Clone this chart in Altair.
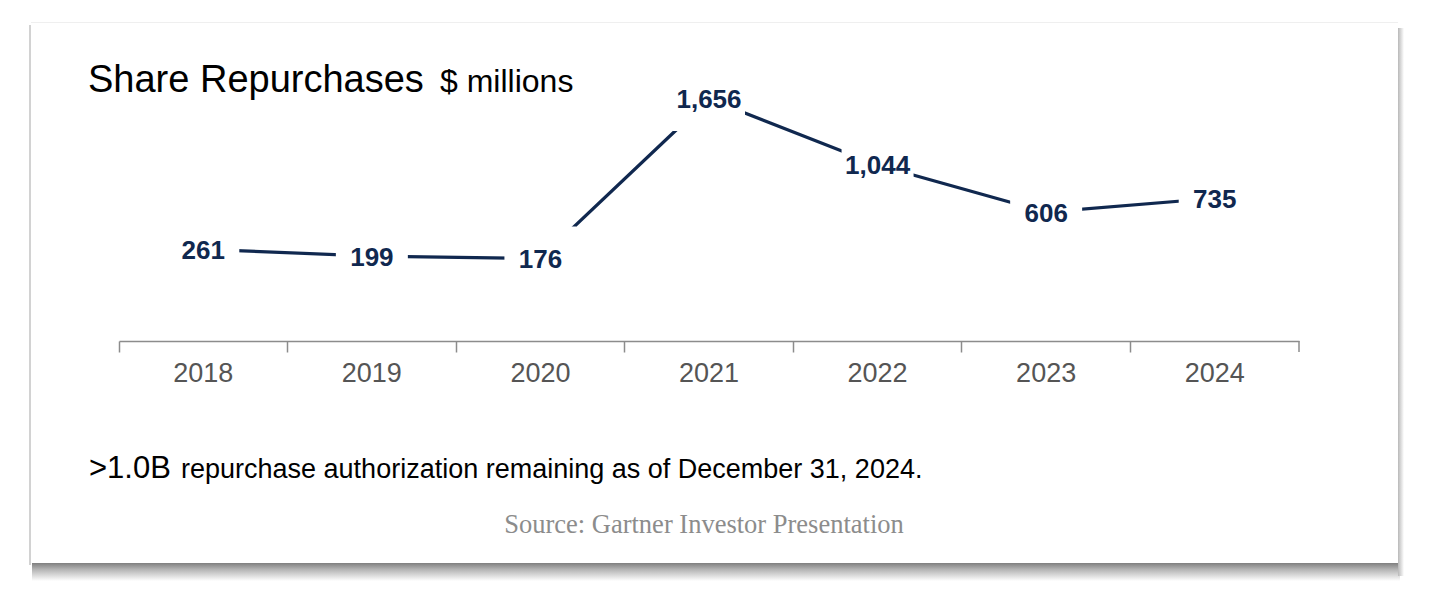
import altair as alt
import pandas as pd

# ---- data ----
years = ["2018", "2019", "2020", "2021", "2022", "2023", "2024"]
repurchases = [261, 199, 176, 1656, 1044, 606, 735]

title_main = "Share Repurchases"
title_unit = "$ millions"
note_big = ">1.0B"
note_rest = "repurchase authorization remaining as of December 31, 2024."
source_text = "Source: Gartner Investor Presentation"

df = pd.DataFrame({"year": years, "value": repurchases})

# ---- styling ----
W, H = 1180, 261
NAVY = "#10284f"
AXIS_GRAY = "#8c8c8c"
FONT = "Liberation Sans"
SERIF = "Liberation Serif"
GAP_BOX = "M-36,-32H36V32H-36Z"

x_scale = alt.Scale(type="band", paddingInner=0, paddingOuter=0)
x_axis = alt.Axis(
    bandPosition=0, domainColor=AXIS_GRAY, domainWidth=1.5,
    tickColor=AXIS_GRAY, tickWidth=1.5, tickSize=11,
    labelFont=FONT, labelFontSize=27, labelColor="#555555",
    labelPadding=8, labelAngle=0, grid=False, title=None,
)
x_enc = alt.X("year:O", bandPosition=0.5, scale=x_scale, axis=x_axis)
y_enc = alt.Y(
    "value:Q",
    scale=alt.Scale(domain=[-589, 1832], nice=False, zero=False),
    axis=None,
)

base = alt.Chart(df)

line = base.mark_line(color=NAVY, strokeWidth=3.2).encode(x=x_enc, y=y_enc)

gaps = base.mark_point(
    shape=GAP_BOX, size=4, filled=True, fill="white", color="white",
    opacity=1, strokeWidth=0,
).encode(x=x_enc, y=y_enc)

labels = base.mark_text(
    font=FONT, fontSize=26, fontWeight="bold", color=NAVY,
    align="center", baseline="middle", dy=1.5,
).encode(x=x_enc, y=y_enc, text=alt.Text("value:Q", format=","))

end_tick = base.transform_filter(
    alt.datum.year == years[-1]
).mark_rule(color=AXIS_GRAY, strokeWidth=1.5).encode(
    x=alt.X("year:O", bandPosition=1, scale=x_scale, axis=x_axis),
    y=alt.value(H), y2=alt.value(H + 11),
)


def text_layer(txt, px, py, **kw):
    return alt.Chart(pd.DataFrame({"t": [txt]})).mark_text(**kw).encode(
        text="t:N", x=alt.value(px), y=alt.value(py)
    )


t_main = text_layer(title_main, -31, 12, align="left", baseline="alphabetic",
                    font=FONT, fontSize=38, color="#000000")
t_unit = text_layer(title_unit, 321, 12, align="left", baseline="alphabetic",
                    font=FONT, fontSize=32, color="#000000")
t_big = text_layer(note_big, -30, 398, align="left", baseline="alphabetic",
                   font=FONT, fontSize=31, color="#000000")
t_rest = text_layer(note_rest, 62, 398, align="left", baseline="alphabetic",
                    font=FONT, fontSize=27, color="#000000")
t_src = text_layer(source_text, 585, 453, align="center", baseline="alphabetic",
                   font=SERIF, fontSize=26.5, color="#8c8c8c")

# ---- card shadow decoration ----
one = pd.DataFrame({"k": [0]})
shadow_bottom = alt.Chart(one).mark_rect(
    color=alt.LinearGradient(
        gradient="linear", x1=0, x2=0, y1=0, y2=1,
        stops=[alt.GradientStop(offset=0, color="#7f7f7f"),
               alt.GradientStop(offset=0.35, color="#b3b3b3"),
               alt.GradientStop(offset=1, color="#ffffff")],
    )
).encode(x=alt.value(-87), x2=alt.value(1281), y=alt.value(483), y2=alt.value(501))
shadow_right = alt.Chart(one).mark_rect(
    color=alt.LinearGradient(
        gradient="linear", x1=0, x2=1, y1=0, y2=0,
        stops=[alt.GradientStop(offset=0, color="#b8b8b8"),
               alt.GradientStop(offset=1, color="#ffffff")],
    )
).encode(x=alt.value(1279), x2=alt.value(1285), y=alt.value(-52), y2=alt.value(496))
shadow_left = alt.Chart(one).mark_rect(color="#d2d2d2").encode(
    x=alt.value(-90), x2=alt.value(-88), y=alt.value(-55), y2=alt.value(485))
shadow_top = alt.Chart(one).mark_rect(color="#efefef").encode(
    x=alt.value(-88), x2=alt.value(1279), y=alt.value(-58), y2=alt.value(-57))

chart = alt.layer(
    shadow_bottom, shadow_right, shadow_left, shadow_top,
    line, gaps, labels, end_tick,
    t_main, t_unit, t_big, t_rest, t_src,
).properties(
    width=W, height=H,
    padding={"left": 111, "top": 72, "right": 123, "bottom": 242},
    autosize=alt.AutoSizeParams(type="none"),
    background="white",
).configure_view(stroke=None)

chart.save("out.html", embed_options={"renderer": "svg", "actions": False})
